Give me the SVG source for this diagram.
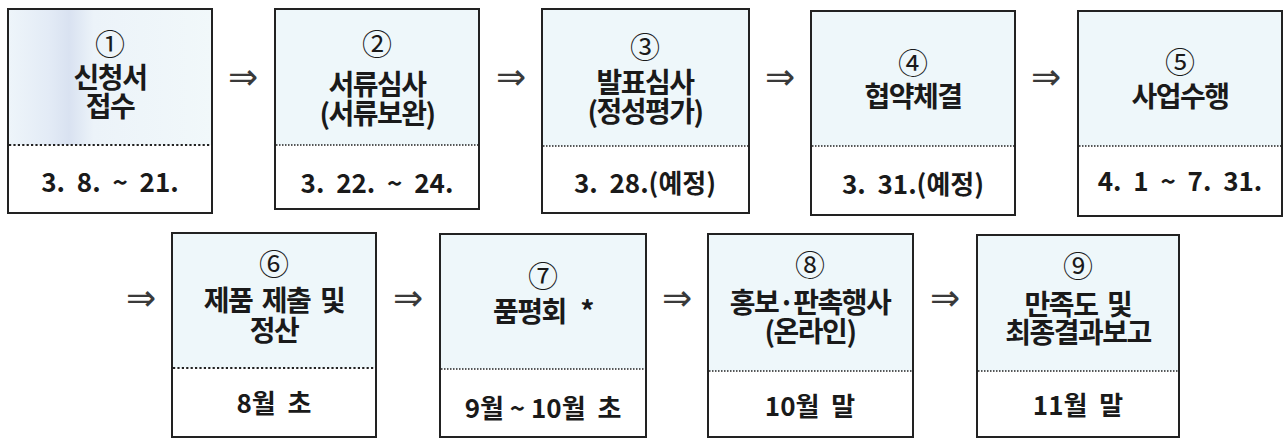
<svg xmlns="http://www.w3.org/2000/svg" width="1284" height="439" viewBox="0 0 1284 439">
<style>
.top{fill:#eef7fa;stroke:none}
.frame{fill:none;stroke:#222;stroke-width:2}
.dot{stroke:#222;stroke-width:1.4;stroke-dasharray:1.5 1.5}
.dotb{stroke:#222;stroke-width:2.2;stroke-dasharray:2.2 2.2}
.num{font-family:"Noto Sans CJK KR","Noto Sans",sans-serif;font-size:30px;fill:#1a1a1a;text-anchor:middle}
.ttl{font-family:"Noto Sans CJK KR",sans-serif;font-size:28px;font-weight:700;fill:#1a1a1a;text-anchor:middle;letter-spacing:-1.5px;white-space:pre}
.date{font-family:"Noto Sans CJK KR",sans-serif;font-size:26px;font-weight:700;fill:#1a1a1a;text-anchor:middle;white-space:pre}
.arr{font-family:"DejaVu Sans",sans-serif;font-size:36px;fill:#3a3a3a;text-anchor:middle}
</style>
<defs>
<linearGradient id="streak" x1="0" y1="0" x2="1" y2="0">
<stop offset="0" stop-color="#eef5fa"/>
<stop offset="0.2" stop-color="#e3ebf6"/>
<stop offset="0.3" stop-color="#d9e2f1"/>
<stop offset="0.42" stop-color="#ecf3f9"/>
<stop offset="1" stop-color="#f1f8fa"/>
</linearGradient>
</defs>
<rect width="1284" height="439" fill="#ffffff"/>

<g id="connectors">
<text class="arr" x="243" y="89">⇒</text>
<text class="arr" x="511" y="89">⇒</text>
<text class="arr" x="780" y="89">⇒</text>
<text class="arr" x="1046" y="89">⇒</text>
<text class="arr" x="141" y="310">⇒</text>
<text class="arr" x="408" y="310">⇒</text>
<text class="arr" x="677" y="310">⇒</text>
<text class="arr" x="945" y="310">⇒</text>
</g>

<g id="node1">
<rect x="8" y="9" width="204" height="136" fill="url(#streak)"/>
<rect class="frame" x="8" y="9" width="204" height="204"/>
<line class="dotb" x1="9" y1="145" x2="211" y2="145"/>
<text class="num" x="110" y="55">①</text>
<text class="ttl" x="110" y="88">신청서</text>
<text class="ttl" x="110" y="117">접수</text>
<text class="date" x="110" y="192">3.  8.  ~  21.</text>
</g>

<g id="node2">
<rect class="top" x="275" y="9" width="204" height="136"/>
<rect class="frame" x="275" y="9" width="204" height="200"/>
<line class="dot" x1="276" y1="145" x2="478" y2="145"/>
<text class="num" x="377" y="55">②</text>
<text class="ttl" x="377" y="95">서류심사</text>
<text class="ttl" x="377" y="124">(서류보완)</text>
<text class="date" x="377" y="193">3.  22.  ~  24.</text>
</g>

<g id="node3">
<rect class="top" x="542" y="9" width="207" height="137"/>
<rect class="frame" x="542" y="9" width="207" height="204"/>
<line class="dot" x1="543" y1="146" x2="748" y2="146"/>
<text class="num" x="645" y="58">③</text>
<text class="ttl" x="645" y="93">발표심사</text>
<text class="ttl" x="645" y="122">(정성평가)</text>
<text class="date" x="645" y="193">3.  28.(예정)</text>
</g>

<g id="node4">
<rect class="top" x="811" y="11" width="204" height="135"/>
<rect class="frame" x="811" y="11" width="204" height="204"/>
<line class="dot" x1="812" y1="146" x2="1014" y2="146"/>
<text class="num" x="913" y="74">④</text>
<text class="ttl" x="913" y="107">협약체결</text>
<text class="date" x="913" y="194">3.  31.(예정)</text>
</g>

<g id="node5">
<rect class="top" x="1078" y="11" width="204" height="135"/>
<rect class="frame" x="1078" y="11" width="204" height="205"/>
<line class="dot" x1="1079" y1="146" x2="1281" y2="146"/>
<text class="num" x="1180" y="73">⑤</text>
<text class="ttl" x="1180" y="107">사업수행</text>
<text class="date" x="1180" y="191">4.  1  ~  7.  31.</text>
</g>

<g id="node6">
<rect class="top" x="172" y="233" width="204" height="135"/>
<rect class="frame" x="172" y="233" width="204" height="204"/>
<line class="dotb" x1="173" y1="368" x2="375" y2="368"/>
<text class="num" x="274" y="275">⑥</text>
<text class="ttl" x="274" y="311">제품  제출  및</text>
<text class="ttl" x="274" y="341">정산</text>
<text class="date" x="274" y="413">8월  초</text>
</g>

<g id="node7">
<rect class="top" x="440" y="234" width="206" height="135"/>
<rect class="frame" x="440" y="234" width="206" height="203"/>
<line class="dot" x1="441" y1="369" x2="645" y2="369"/>
<text class="num" x="543" y="287">⑦</text>
<text class="ttl" x="543" y="322">품평회   *</text>
<text class="date" x="543" y="418">9월 ~ 10월  초</text>
</g>

<g id="node8">
<rect class="top" x="708" y="234" width="205" height="137"/>
<rect class="frame" x="708" y="234" width="205" height="203"/>
<line class="dot" x1="709" y1="371" x2="912" y2="371"/>
<text class="num" x="810" y="276">⑧</text>
<text class="ttl" x="810" y="313">홍보·판촉행사</text>
<text class="ttl" x="810" y="342">(온라인)</text>
<text class="date" x="810" y="416">10월  말</text>
</g>

<g id="node9">
<rect class="top" x="977" y="235" width="202" height="136"/>
<rect class="frame" x="977" y="235" width="202" height="202"/>
<line class="dot" x1="978" y1="371" x2="1178" y2="371"/>
<text class="num" x="1078" y="277">⑨</text>
<text class="ttl" x="1078" y="315">만족도  및</text>
<text class="ttl" x="1078" y="343">최종결과보고</text>
<text class="date" x="1078" y="415">11월  말</text>
</g>
</svg>
